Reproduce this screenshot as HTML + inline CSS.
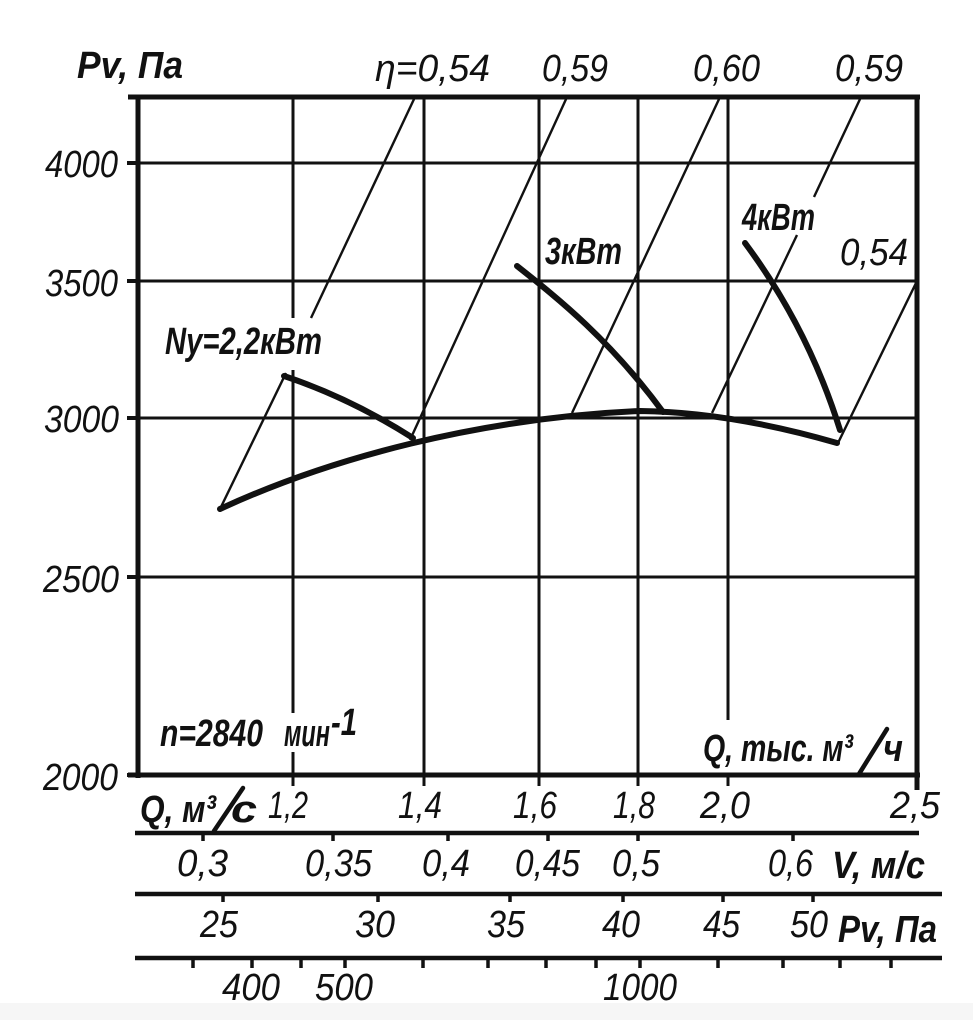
<!DOCTYPE html>
<html><head><meta charset="utf-8">
<style>
html,body{margin:0;padding:0;background:#fff;}
svg{display:block;}
text{font-family:"Liberation Sans","DejaVu Sans",sans-serif;fill:#111;}
.n{font-style:italic;font-size:38px;}
.b{font-style:italic;font-weight:bold;font-size:38px;}
</style></head>
<body>
<svg width="973" height="1020" viewBox="0 0 973 1020" xmlns="http://www.w3.org/2000/svg">
<rect x="0" y="0" width="973" height="1020" fill="#fff"/>
<g stroke="#111" fill="none" stroke-linecap="butt">
  <!-- horizontal grid -->
  <g stroke-width="3">
    <line x1="138" y1="163" x2="917" y2="163"/>
    <line x1="138" y1="281" x2="917" y2="281"/>
    <line x1="138" y1="418" x2="917" y2="418"/>
    <line x1="138" y1="577" x2="917" y2="577"/>
  </g>
  <!-- vertical grid -->
  <g stroke-width="3">
    <line x1="293" y1="97" x2="293" y2="318"/>
    <line x1="293" y1="370" x2="293" y2="713"/>
    <line x1="293" y1="752" x2="293" y2="786"/>
    <line x1="424" y1="97" x2="424" y2="786"/>
    <line x1="539" y1="97" x2="539" y2="786"/>
    <line x1="638" y1="97" x2="638" y2="786"/>
    <line x1="728" y1="97" x2="728" y2="720"/>
    <line x1="728" y1="775" x2="728" y2="786"/>
  </g>
  <!-- efficiency lines (thin) -->
  <g stroke-width="2.4">
    <line x1="220" y1="509" x2="286" y2="373"/>
    <line x1="311" y1="318" x2="415" y2="97"/>
    <line x1="410" y1="440" x2="567" y2="97"/>
    <line x1="572" y1="413" x2="720" y2="97"/>
    <line x1="712" y1="413" x2="797" y2="235"/>
    <line x1="814" y1="197" x2="861" y2="97"/>
    <line x1="838" y1="443" x2="917" y2="281"/>
  </g>
  <!-- frame -->
  <g stroke-width="5">
    <line x1="128" y1="97" x2="920" y2="97"/>
    <line x1="138" y1="95" x2="138" y2="778"/>
    <line x1="917" y1="95" x2="917" y2="790"/>
    <line x1="128" y1="775" x2="920" y2="775"/>
  </g>
  <g stroke-width="4">
    <line x1="127" y1="163" x2="138" y2="163"/>
    <line x1="127" y1="281" x2="138" y2="281"/>
    <line x1="127" y1="418" x2="138" y2="418"/>
    <line x1="127" y1="577" x2="138" y2="577"/>
    <line x1="127" y1="775" x2="138" y2="775"/>
  </g>
  <!-- thick curves -->
  <g stroke-width="6" stroke-linejoin="round" stroke-linecap="round">
    <path d="M220,509 C330,458 480,418 640,411 Q730,412 837,443"/>
    <path d="M284,376 Q350,398 413,438"/>
    <path d="M517,266 C560,300 610,340 663,412"/>
    <path d="M745,243 C780,290 815,350 840,430"/>
  </g>
  <!-- bottom scales -->
  <g stroke-width="4.5">
    <line x1="135" y1="833" x2="919" y2="833"/>
    <line x1="135" y1="894" x2="942" y2="894"/>
    <line x1="135" y1="958" x2="942" y2="958"/>
  </g>
  <g stroke-width="3.5">
    <line x1="203" y1="833" x2="203" y2="841"/>
    <line x1="333" y1="833" x2="333" y2="841"/>
    <line x1="448" y1="833" x2="448" y2="841"/>
    <line x1="548" y1="833" x2="548" y2="841"/>
    <line x1="638" y1="833" x2="638" y2="841"/>
    <line x1="793" y1="833" x2="793" y2="841"/>

    <line x1="223" y1="894" x2="223" y2="902"/>
    <line x1="378" y1="894" x2="378" y2="902"/>
    <line x1="510" y1="894" x2="510" y2="902"/>
    <line x1="623" y1="894" x2="623" y2="902"/>
    <line x1="723" y1="894" x2="723" y2="902"/>
    <line x1="813" y1="894" x2="813" y2="902"/>

    <line x1="193" y1="958" x2="193" y2="968"/>
    <line x1="252" y1="958" x2="252" y2="968"/>
    <line x1="301" y1="958" x2="301" y2="968"/>
    <line x1="345" y1="958" x2="345" y2="968"/>
    <line x1="423" y1="958" x2="423" y2="968"/>
    <line x1="488" y1="958" x2="488" y2="968"/>
    <line x1="546" y1="958" x2="546" y2="968"/>
    <line x1="596" y1="958" x2="596" y2="968"/>
    <line x1="640" y1="958" x2="640" y2="968"/>
    <line x1="718" y1="958" x2="718" y2="968"/>
    <line x1="783" y1="958" x2="783" y2="968"/>
    <line x1="840" y1="958" x2="840" y2="968"/>
    <line x1="891" y1="958" x2="891" y2="968"/>
  </g>
  <!-- slashes of unit labels -->
  <g stroke-width="4.5" stroke-linecap="round">
    <line x1="243" y1="788" x2="214" y2="831"/>
    <line x1="887" y1="729" x2="859" y2="774"/>
  </g>
</g>

<!-- Y axis labels -->
<text class="n" x="45" y="177" textLength="73" lengthAdjust="spacingAndGlyphs">4000</text>
<text class="n" x="45" y="296" textLength="73" lengthAdjust="spacingAndGlyphs">3500</text>
<text class="n" x="44" y="432" textLength="75" lengthAdjust="spacingAndGlyphs">3000</text>
<text class="n" x="43" y="592" textLength="76" lengthAdjust="spacingAndGlyphs">2500</text>
<text class="n" x="43" y="790" textLength="75" lengthAdjust="spacingAndGlyphs">2000</text>

<text class="b" x="77" y="78" font-size="40" textLength="106" lengthAdjust="spacingAndGlyphs">Pv,  Па</text>

<!-- efficiency labels -->
<text class="n" x="375" y="81" textLength="115" lengthAdjust="spacingAndGlyphs">η=0,54</text>
<text class="n" x="542" y="81" textLength="66" lengthAdjust="spacingAndGlyphs">0,59</text>
<text class="n" x="693" y="81" textLength="67" lengthAdjust="spacingAndGlyphs">0,60</text>
<text class="n" x="835" y="81" textLength="68" lengthAdjust="spacingAndGlyphs">0,59</text>
<text class="n" x="840" y="265" textLength="68" lengthAdjust="spacingAndGlyphs">0,54</text>

<!-- power labels -->
<text class="b" x="165" y="354" textLength="157" lengthAdjust="spacingAndGlyphs">Ny=2,2кВт</text>
<text class="b" x="545" y="264" textLength="77" lengthAdjust="spacingAndGlyphs">3кВт</text>
<text class="b" x="742" y="230" textLength="73" lengthAdjust="spacingAndGlyphs">4кВт</text>

<text class="b" x="160" y="746" textLength="103" lengthAdjust="spacingAndGlyphs">n=2840</text>
<text class="b" x="284" y="746" textLength="46" lengthAdjust="spacingAndGlyphs">мин</text>
<text class="b" x="331" y="735" font-size="22" textLength="26" lengthAdjust="spacingAndGlyphs">-1</text>

<text class="b" x="703" y="761" textLength="150" lengthAdjust="spacingAndGlyphs">Q,  тыс.  м³</text>
<text class="b" x="883" y="761" textLength="20" lengthAdjust="spacingAndGlyphs">ч</text>

<!-- Q row -->
<text class="b" x="140" y="822" textLength="76" lengthAdjust="spacingAndGlyphs">Q,  м³</text>
<text class="b" x="231" y="822" textLength="26" lengthAdjust="spacingAndGlyphs">с</text>
<text class="n" x="268" y="818" textLength="40" lengthAdjust="spacingAndGlyphs">1,2</text>
<text class="n" x="398" y="818" textLength="44" lengthAdjust="spacingAndGlyphs">1,4</text>
<text class="n" x="513" y="818" textLength="44" lengthAdjust="spacingAndGlyphs">1,6</text>
<text class="n" x="613" y="818" textLength="42" lengthAdjust="spacingAndGlyphs">1,8</text>
<text class="n" x="700" y="818" textLength="50" lengthAdjust="spacingAndGlyphs">2,0</text>
<text class="n" x="890" y="818" textLength="50" lengthAdjust="spacingAndGlyphs">2,5</text>

<!-- V row -->
<text class="n" x="177" y="876" textLength="51" lengthAdjust="spacingAndGlyphs">0,3</text>
<text class="n" x="305" y="876" textLength="67" lengthAdjust="spacingAndGlyphs">0,35</text>
<text class="n" x="422" y="876" textLength="48" lengthAdjust="spacingAndGlyphs">0,4</text>
<text class="n" x="515" y="876" textLength="65" lengthAdjust="spacingAndGlyphs">0,45</text>
<text class="n" x="612" y="876" textLength="48" lengthAdjust="spacingAndGlyphs">0,5</text>
<text class="n" x="768" y="876" textLength="45" lengthAdjust="spacingAndGlyphs">0,6</text>
<text class="b" x="832" y="878" textLength="93" lengthAdjust="spacingAndGlyphs">V,  м/с</text>

<!-- Pv row -->
<text class="n" x="200" y="937" textLength="38" lengthAdjust="spacingAndGlyphs">25</text>
<text class="n" x="355" y="937" textLength="40" lengthAdjust="spacingAndGlyphs">30</text>
<text class="n" x="487" y="937" textLength="38" lengthAdjust="spacingAndGlyphs">35</text>
<text class="n" x="602" y="937" textLength="38" lengthAdjust="spacingAndGlyphs">40</text>
<text class="n" x="703" y="937" textLength="37" lengthAdjust="spacingAndGlyphs">45</text>
<text class="n" x="790" y="937" textLength="38" lengthAdjust="spacingAndGlyphs">50</text>
<text class="b" x="838" y="942" textLength="99" lengthAdjust="spacingAndGlyphs">Pv,  Па</text>

<!-- rpm row -->
<text class="n" x="222" y="1000" textLength="58" lengthAdjust="spacingAndGlyphs">400</text>
<text class="n" x="315" y="1000" textLength="58" lengthAdjust="spacingAndGlyphs">500</text>
<text class="n" x="603" y="1000" textLength="74" lengthAdjust="spacingAndGlyphs">1000</text>

<!-- bottom band -->
<rect x="0" y="1003" width="973" height="17" fill="#f6f6f6"/>
</svg>
</body></html>
